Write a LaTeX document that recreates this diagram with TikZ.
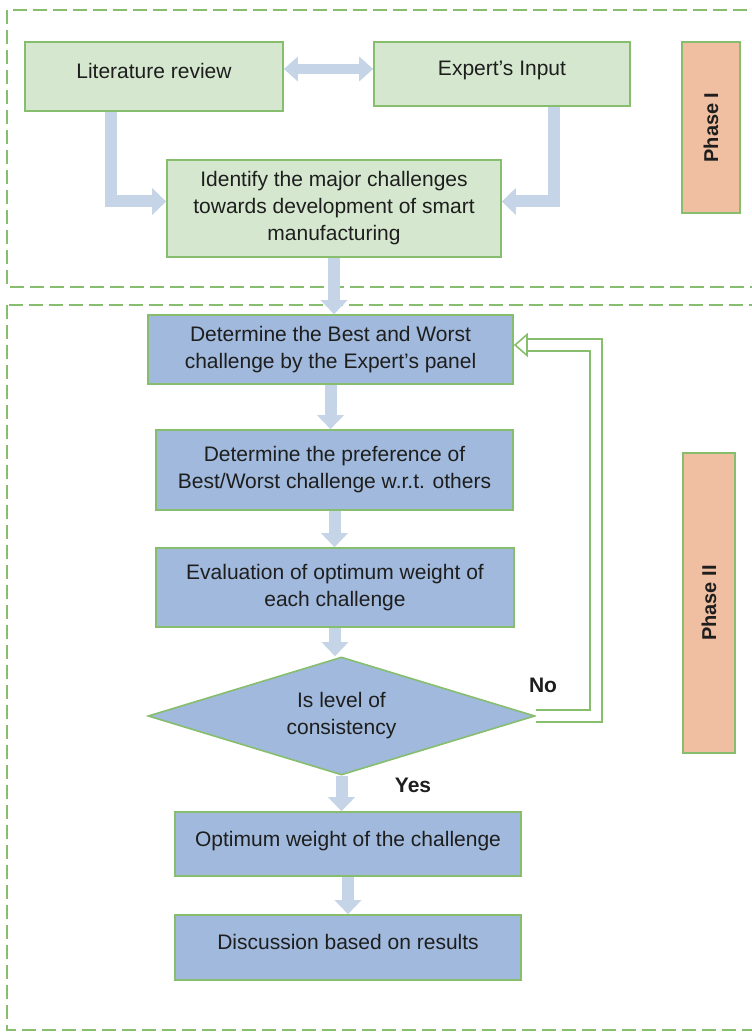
\documentclass[tikz,border=0pt]{standalone}
\usepackage{fontspec}
\setmainfont{Liberation Sans}
\usetikzlibrary{arrows.meta,shapes.geometric}
\definecolor{boxline}{RGB}{135,190,110}
\definecolor{greenfill}{RGB}{213,232,207}
\definecolor{bluefill}{RGB}{160,185,220}
\definecolor{phasefill}{RGB}{240,190,160}
\definecolor{arrowfill}{RGB}{197,212,230}
\definecolor{txt}{RGB}{30,30,30}
\begin{document}
\begin{tikzpicture}[x=0.5pt,y=-0.5pt,
  every node/.style={font=\fontsize{10.5}{13.5}\selectfont, text=txt},
  greenbox/.style={draw=boxline, line width=0.8pt, fill=greenfill, align=center, inner sep=0pt},
  bluebox/.style={draw=boxline, line width=0.8pt, fill=bluefill, align=center, inner sep=0pt},
  oneline/.style={text height=8pt, text depth=6pt},
  phasebox/.style={draw=boxline, line width=0.8pt, fill=phasefill, inner sep=0pt, rotate=90,
    font=\fontsize{10}{12}\selectfont\bfseries},
  bound/.style={draw=boxline, line width=1pt, dash pattern=on 7pt off 3pt},
  fatarrow/.style={draw=arrowfill, line width=6pt, -{Triangle[length=7pt,width=13pt]}},
  fbline/.style={draw=boxline, line width=0.8pt, double=white, double distance=5pt},
  fbtip/.style={draw=boxline, line width=0.8pt, -{Triangle[length=7pt,width=12pt,fill=white]}},
  answer/.style={font=\fontsize{10.5}{12}\selectfont\bfseries}]
\useasboundingbox (0,0) rectangle (751,1032);
%%
%% phase boundaries
\draw [bound] (7,10) rectangle (780,287);
\draw [bound] (7,305) rectangle (780,1030);
%%
%% Phase I
\node (lit) at (154,76.5) [greenbox, oneline, minimum width=129pt, minimum height=34.5pt] {Literature review};
\node (expert) at (502,74) [greenbox, oneline, minimum width=128pt, minimum height=32pt] {Expert's Input};
\node (ident) at (334,208.5) [greenbox, minimum width=167pt, minimum height=48.5pt]
  {Identify the major challenges\\towards development of smart\\manufacturing};
\node (phaseI) at (711,127.5) [phasebox, minimum width=85.5pt, minimum height=29pt] {Phase I};
%%
%% Phase II
\node (best) at (330.5,349.5) [bluebox, minimum width=182.5pt, minimum height=34.5pt]
  {Determine the Best and Worst\\challenge by the Expert's panel};
\node (pref) at (334.5,470) [bluebox, minimum width=178.5pt, minimum height=40pt]
  {Determine the preference of\\Best/Worst challenge w.r.t. others};
\node (eval) at (335,587.5) [bluebox, minimum width=179pt, minimum height=39.5pt]
  {Evaluation of optimum weight of\\each challenge};
\node (dia) at (341.5,716) [diamond, aspect=3.3, draw=boxline, line width=0.8pt, fill=bluefill,
  align=center, inner sep=0pt, minimum width=193.5pt, minimum height=59pt] {Is level of\\consistency};
\node (optw) at (348,844) [bluebox, oneline, minimum width=173pt, minimum height=32pt]
  {Optimum weight of the challenge};
\node (disc) at (348,947.5) [bluebox, oneline, minimum width=173pt, minimum height=32.5pt]
  {Discussion based on results};
\node (phaseII) at (709,603) [phasebox, minimum width=150pt, minimum height=26pt] {Phase II};
%%
\node (no) at (543,685) [answer] {No};
\node (yes) at (413,785) [answer] {Yes};
%%
%% arrows
\draw [fatarrow, line width=5pt, {Triangle[length=7pt,width=12pt]}-{Triangle[length=7pt,width=12pt]}]
  ([yshift=3.75pt]lit.east) -- ([yshift=3.75pt]lit.east -| expert.west);
\draw [fatarrow] ([xshift=43.5pt]lit.south west) |- ([yshift=3.5pt]ident.west);
\draw [fatarrow] ([xshift=90.5pt]expert.south west) |- ([yshift=3.5pt]ident.east);
\draw [fatarrow] (ident.south) -- (ident.south |- best.north);
\draw [fatarrow] (best.south) -- (best.south |- pref.north);
\draw [fatarrow] (pref.south) -- (pref.south |- eval.north);
\draw [fatarrow] (eval.south) -- (eval.south |- dia.north);
\draw [fatarrow] (dia.south) -- (dia.south |- optw.north);
\draw [fatarrow] (optw.south) -- (disc.north);
%% feedback
\coordinate (fbcorner) at (596,345);
\coordinate (fbhead) at (527,345);
\draw [fbline] (dia.east) -| (fbcorner) -- (fbhead);
\draw [fbtip] (fbhead) -- (best.east |- fbcorner);
\end{tikzpicture}
\end{document}
